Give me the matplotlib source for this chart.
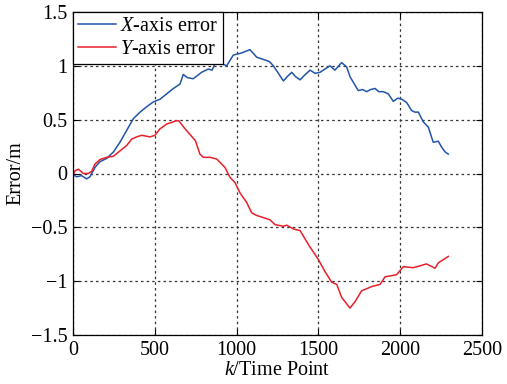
import matplotlib
matplotlib.use("Agg")
import matplotlib.pyplot as plt

plt.rcParams['font.family'] = ['Liberation Serif', 'DejaVu Serif']
plt.rcParams['mathtext.fontset'] = 'custom'
plt.rcParams['mathtext.rm'] = 'Liberation Serif'
plt.rcParams['mathtext.it'] = 'Liberation Serif:italic'

x_t = [0, 22, 53, 83, 104, 134, 165, 206, 247, 287, 328, 369, 410, 450, 491,
       532, 573, 614, 654, 674, 700, 735, 786, 827, 850, 878, 910, 939, 980,
       1031, 1082, 1123, 1163, 1200, 1225, 1260, 1286, 1310, 1337, 1360, 1388,
       1420, 1449, 1480, 1510, 1540, 1571, 1601, 1642, 1673, 1693, 1720, 1744,
       1770, 1795, 1820, 1846, 1870, 1897, 1927, 1958, 1985, 2009, 2039, 2070,
       2090, 2111, 2141, 2172, 2202, 2233, 2253, 2275, 2294]
x_err = [-0.01, -0.03, -0.02, -0.05, -0.03, 0.056, 0.11, 0.14, 0.2, 0.29, 0.4,
         0.51, 0.57, 0.62, 0.665, 0.69, 0.74, 0.79, 0.83, 0.92, 0.89, 0.88,
         0.94, 0.97, 0.96, 1.05, 1.02, 1.0, 1.1, 1.12, 1.15, 1.08, 1.06, 1.04,
         1.0, 0.92, 0.86, 0.9, 0.94, 0.9, 0.87, 0.92, 0.96, 0.93, 0.94, 0.97,
         1.0, 0.96, 1.03, 0.99, 0.9, 0.83, 0.77, 0.78, 0.76, 0.78, 0.79, 0.76,
         0.76, 0.74, 0.67, 0.7, 0.69, 0.66, 0.585, 0.57, 0.57, 0.48, 0.43,
         0.29, 0.3, 0.245, 0.2, 0.18]

y_t = [0, 12, 33, 63, 94, 114, 134, 165, 206, 247, 287, 328, 359, 389, 420,
       471, 501, 532, 573, 614, 630, 646, 685, 748, 776, 797, 838, 879, 929,
       960, 990, 1021, 1062, 1092, 1123, 1164, 1204, 1235, 1286, 1306, 1347,
       1388, 1439, 1500, 1540, 1581, 1612, 1642, 1693, 1724, 1764, 1826, 1877,
       1907, 1978, 2019, 2080, 2161, 2213, 2233, 2294]
y_err = [-0.02, 0.025, 0.04, 0.0, 0.0, 0.02, 0.087, 0.13, 0.15, 0.16, 0.21,
         0.26, 0.32, 0.34, 0.355, 0.34, 0.355, 0.415, 0.46, 0.48, 0.49, 0.49,
         0.415, 0.305, 0.18, 0.15, 0.15, 0.134, 0.056, -0.037, -0.084, -0.18,
         -0.27, -0.365, -0.39, -0.41, -0.43, -0.475, -0.49, -0.48, -0.515,
         -0.53, -0.66, -0.80, -0.91, -1.01, -1.03, -1.15, -1.25, -1.19, -1.09,
         -1.05, -1.03, -0.96, -0.94, -0.865, -0.875, -0.84, -0.88, -0.83, -0.77]

x_ticks = [0, 500, 1000, 1500, 2000, 2500]
y_ticks = [-1.5, -1, -0.5, 0, 0.5, 1, 1.5]
y_tick_labels = ['\u22121.5', '\u22121', '\u22120.5', '0', '0.5', '1', '1.5']

fig = plt.figure(figsize=(5.07, 3.84), dpi=100)
ax = fig.add_axes([73/507, 1-335/384, (482-73)/507, (335-12)/384])

ax.plot(x_t, x_err, color='#2255a8', lw=1.1, label='$\\mathit{X}$-axis error')
ax.plot(y_t, y_err, color='#e8202a', lw=1.1, label='$\\mathit{Y}$-axis error')

ax.set_xlim(0, 2500)
ax.set_ylim(-1.5, 1.5)
ax.set_xticks(x_ticks)
ax.set_xticklabels([str(v) for v in x_ticks])
ax.set_yticks(y_ticks)
ax.set_yticklabels(y_tick_labels)
ax.tick_params(direction='in', top=True, right=True, length=4, labelsize=14.5,
               width=0.8, pad=4)
ax.grid(True, linestyle=(0, (2, 2.5)), color='#333333', lw=0.9)
for s in ax.spines.values():
    s.set_linewidth(0.9)

ax.set_xlabel('$\\mathit{k}$/Time Point', fontsize=14.5, labelpad=1)
ax.set_ylabel('Error/m', fontsize=14.5, labelpad=4)

leg = ax.legend(loc='upper left', fontsize=14.5, fancybox=False, framealpha=1,
                edgecolor='black', borderpad=0.25, labelspacing=0.2,
                handlelength=1.9, handletextpad=0.2, borderaxespad=0)
leg.get_frame().set_linewidth(0.9)

fig.savefig('out.png', dpi=100)
